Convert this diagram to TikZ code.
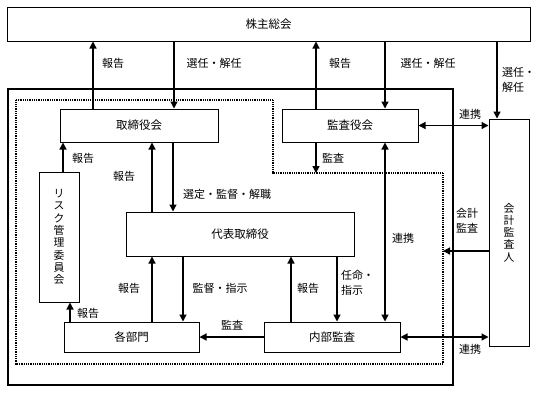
\documentclass[tikz,border=0pt]{standalone}
\usepackage{fontspec}
\setmainfont{Noto Sans CJK JP}
\usetikzlibrary{arrows.meta}
\begin{document}
\begin{tikzpicture}[x=1pt,y=-1pt,
  box/.style={draw,line width=1pt,inner sep=0pt,font=\fontsize{11.5}{13}\selectfont},
  vbox/.style={draw,line width=1pt,inner sep=0pt,align=center,font=\fontsize{10.8}{12.3}\selectfont},
  arr/.style={line width=1.3pt,-{Triangle[length=7pt,width=7pt]}},
  darr/.style={line width=1.3pt,{Triangle[length=7pt,width=7pt]}-{Triangle[length=7pt,width=7pt]}},
  lbl/.style={inner sep=0pt,align=left,font=\fontsize{11}{15}\selectfont},
  frame/.style={line width=1.5pt},
  dotframe/.style={line width=1.2pt,dash pattern=on 1pt off 0.8pt}]
\useasboundingbox (0,0) rectangle (540,392);
% frames
\draw[frame] (8,89) rectangle (453,385);
\coordinate (d1) at (16,100);
\coordinate (d2) at (273,173);
\coordinate (d3) at (443,173);
\coordinate (d4) at (443,364);
\draw[dotframe] (d1) -- (273,100) -- (d2) -- (d3) -- (d4) -- (16,364) -- cycle;
% nodes
\node[box,minimum width=523pt,minimum height=34pt] (kabu) at (268.5,24) {株主総会};
\node[box,minimum width=158pt,minimum height=33pt] (tori) at (139,125.5) {取締役会};
\node[box,minimum width=136pt,minimum height=33pt] (kansa) at (350,125.5) {監査役会};
\node[vbox,minimum width=40pt,minimum height=227pt] (kaikei) at (509,232.5) {会\\計\\監\\査\\人};
\node[vbox,minimum width=40pt,minimum height=130pt] (risk) at (59,237) {リ\\ス\\ク\\管\\理\\委\\員\\会};
\node[box,minimum width=228pt,minimum height=44pt] (daihyo) at (240,234) {代表取締役};
\node[box,minimum width=135pt,minimum height=30pt] (kakubu) at (131.5,337) {各部門};
\node[box,minimum width=136pt,minimum height=30pt] (naibu) at (332,337) {内部監査};
% lanes
\coordinate (xa) at (93,0);
\coordinate (xb) at (174,0);
\coordinate (xc) at (316,0);
\coordinate (xd) at (385,0);
\coordinate (xe) at (497,0);
\coordinate (xf) at (63,0);
\coordinate (xg) at (70,0);
\coordinate (xh) at (152,0);
\coordinate (xi) at (173,0);
\coordinate (xj) at (183,0);
\coordinate (xk) at (291,0);
\coordinate (xl) at (337,0);
\coordinate (ya) at (0,251);
% connectors
\draw[arr] (tori.north -| xa) -- (kabu.south -| xa);
\draw[arr] (kabu.south -| xb) -- (tori.north -| xb);
\draw[arr] (kansa.north -| xc) -- (kabu.south -| xc);
\draw[arr] (kabu.south -| xd) -- (kansa.north -| xd);
\draw[arr] (kabu.south -| xe) -- (kaikei.north -| xe);
\draw[darr] (kansa.east) -- (kaikei.west |- kansa.east);
\draw[arr] (kansa.south -| xc) -- (d2 -| xc);
\draw[arr] (risk.north -| xf) -- (tori.south -| xf);
\draw[arr] (daihyo.north -| xh) -- (tori.south -| xh);
\draw[arr] (tori.south -| xi) -- (daihyo.north -| xi);
\draw[arr] (kakubu.north -| xg) -- (risk.south -| xg);
\draw[arr] (kakubu.north -| xh) -- (daihyo.south -| xh);
\draw[arr] (daihyo.south -| xj) -- (kakubu.north -| xj);
\draw[arr] (naibu.north -| xk) -- (daihyo.south -| xk);
\draw[arr] (daihyo.south -| xl) -- (naibu.north -| xl);
\draw[darr] (kansa.south -| xd) -- (naibu.north -| xd);
\draw[arr] (naibu.west) -- (kakubu.east);
\draw[darr] (naibu.east) -- (kaikei.west |- naibu.east);
\draw[arr] (kaikei.west |- ya) -- (d3 |- ya);
% labels
\node[lbl] (l1) at (113,63) {報告};
\node[lbl] (l2) at (214,63) {選任・解任};
\node[lbl] (l3) at (340,63) {報告};
\node[lbl] (l4) at (428,63) {選任・解任};
\node[lbl,anchor=west] (l5) at (502,80) {選任・\\解任};
\node[lbl] (l6) at (470,114) {連携};
\node[lbl] (l7) at (333,158) {監査};
\node[lbl] (l8) at (83,158) {報告};
\node[lbl] (l9) at (124,176) {報告};
\node[lbl] (l10) at (227,194) {選定・監督・解職};
\node[lbl] (l11) at (403,238) {連携};
\node[lbl,align=center] (l12) at (467,221) {会計\\監査};
\node[lbl] (l13) at (129,288) {報告};
\node[lbl] (l14) at (220,288) {監督・指示};
\node[lbl] (l15) at (308,288) {報告};
\node[lbl,anchor=west] (l16) at (341,283) {任命・\\指示};
\node[lbl] (l17) at (88,313) {報告};
\node[lbl] (l18) at (232,325) {監査};
\node[lbl] (l19) at (470,349) {連携};
\end{tikzpicture}
\end{document}
